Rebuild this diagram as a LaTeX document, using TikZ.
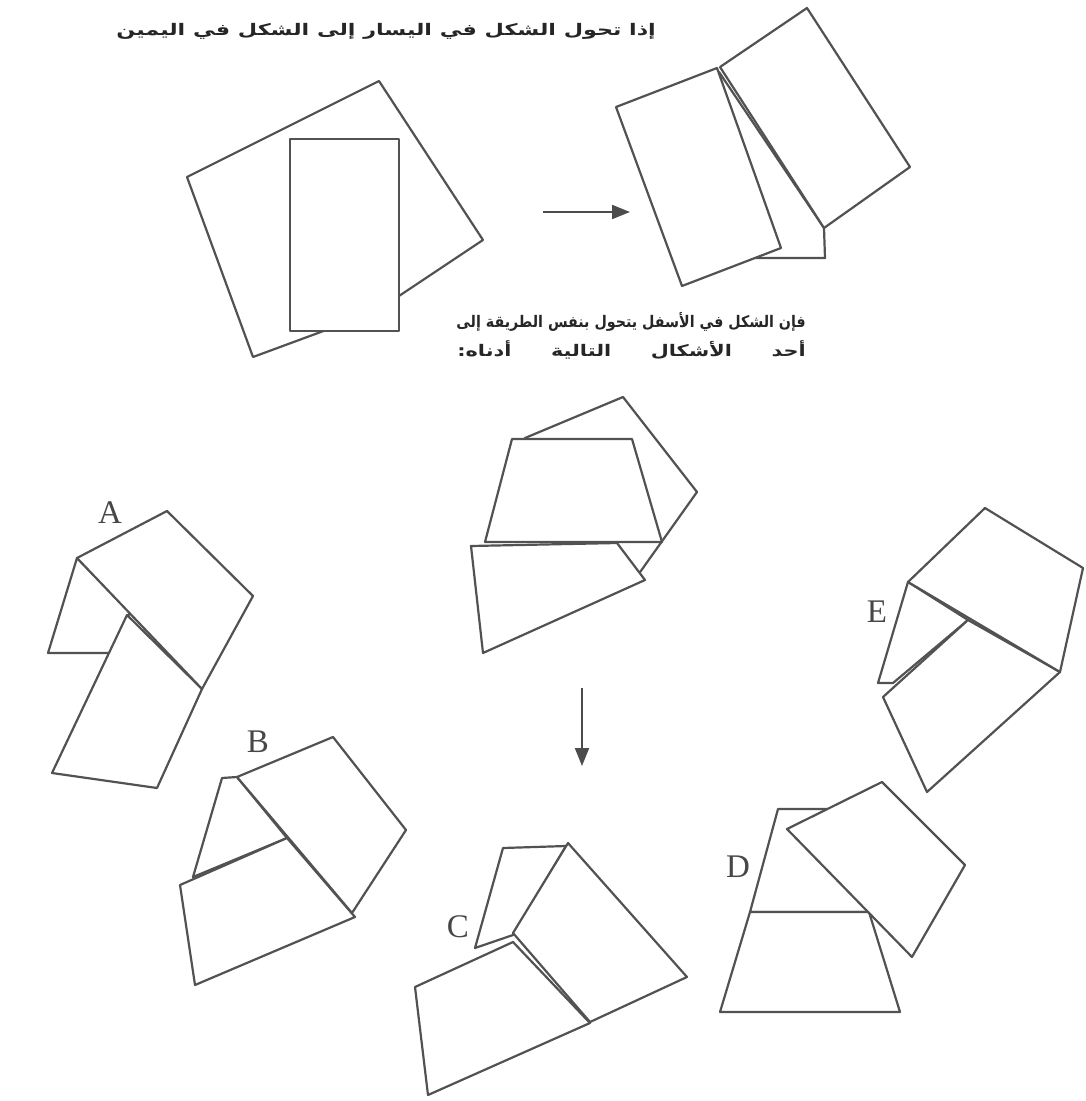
\documentclass[tikz,border=0pt]{standalone}
\usepackage{fontspec}
\newfontfamily\arabicfont[Script=Arabic]{DejaVu Sans}
\newfontfamily\labelfont{Liberation Serif}
\TeXXeTstate=1
\usetikzlibrary{arrows.meta}

\begin{document}
\begin{tikzpicture}[x=1pt,y=-1pt,>={Triangle[length=18pt,width=14pt]},
  piece/.style={draw=black!68,fill=white,line width=2.2pt,line join=round},
  arabic/.style={font=\arabicfont\bfseries\fontsize{16}{18}\selectfont,text=black!85,inner sep=0pt},
  letter/.style={font=\labelfont\fontsize{33}{33}\selectfont,text=black!72,inner sep=0pt}]
  \useasboundingbox (0,0) rectangle (1085,1101);

  % question text
  \node[arabic,anchor=east] (line1) at (656,31) {\scalebox{1.39}[1]{\beginR إذا تحول الشكل في اليسار إلى الشكل في اليمين\endR}};
  \node[arabic,anchor=east] (line2) at (806,322) {\scalebox{0.89}[1]{\beginR فإن الشكل في الأسفل يتحول بنفس الطريقة إلى\endR}};
  \node[arabic,anchor=east] (line3) at (806,350) {\scalebox{1.3}[1]{\hbox to 268pt{\beginR أحد\hfill الأشكال\hfill التالية\hfill أدناه:\endR}}};

  % left pair: before
  \draw[piece] (187,177) -- (379,81) -- (483,240) -- (375,312) -- (253,357) -- cycle;
  \draw[piece] (290,139) rectangle (399,331);

  % left pair: after
  \draw[piece] (719,72) -- (824,228) -- (825,258) -- (745,258) -- cycle;
  \draw[piece] (720,67) -- (807,8) -- (910,167) -- (824,228) -- cycle;
  \draw[piece] (616,107) -- (717,68) -- (781,248) -- (682,286) -- cycle;

  \coordinate (h1) at (543,212);
  \coordinate (h2) at (630,212);
  \draw[->,black!70,line width=2pt] (h1) -- (h2);

  % figure to transform
  \draw[piece] (525,438) -- (623,397) -- (697,492) -- (638,575) -- cycle;
  \draw[piece] (512,439) -- (632,439) -- (662,542) -- (485,542) -- cycle;
  \draw[piece] (471,546) -- (617,543) -- (645,580) -- (483,653) -- cycle;

  \coordinate (v1) at (582,688);
  \coordinate (v2) at (582,766);
  \draw[->,black!70,line width=2pt] (v1) -- (v2);

  % choice A
  \draw[piece] (77,558) -- (48,653) -- (112,653) -- (130,612) -- cycle;
  \draw[piece] (127,615) -- (202,689) -- (157,788) -- (52,773) -- cycle;
  \draw[piece] (77,558) -- (167,511) -- (253,596) -- (202,689) -- cycle;
  \node[letter] (labA) at (110,513) {A};

  % choice B
  \draw[piece] (222,778) -- (237,777) -- (287,838) -- (193,877) -- cycle;
  \draw[piece] (180,885) -- (287,838) -- (355,917) -- (195,985) -- cycle;
  \draw[piece] (237,777) -- (333,737) -- (406,830) -- (352,913) -- cycle;
  \node[letter] (labB) at (258,742) {B};

  % choice C
  \draw[piece] (503,848) -- (566,846) -- (513,935) -- (475,948) -- cycle;
  \draw[piece] (415,987) -- (513,942) -- (590,1023) -- (428,1095) -- cycle;
  \draw[piece] (568,843) -- (687,977) -- (590,1022) -- (513,933) -- cycle;
  \node[letter] (labC) at (458,927) {C};

  % choice D
  \draw[piece] (778,809) -- (840,809) -- (867,912) -- (750,912) -- cycle;
  \draw[piece] (750,912) -- (869,912) -- (900,1012) -- (720,1012) -- cycle;
  \draw[piece] (787,829) -- (882,782) -- (965,865) -- (912,957) -- cycle;
  \node[letter] (labD) at (738,867) {D};

  % choice E
  \draw[piece] (908,582) -- (878,683) -- (893,683) -- (968,620) -- cycle;
  \draw[piece] (968,620) -- (1060,672) -- (927,792) -- (883,697) -- cycle;
  \draw[piece] (908,582) -- (985,508) -- (1083,568) -- (1060,672) -- cycle;
  \node[letter] (labE) at (877,612) {E};
\end{tikzpicture}
\end{document}
